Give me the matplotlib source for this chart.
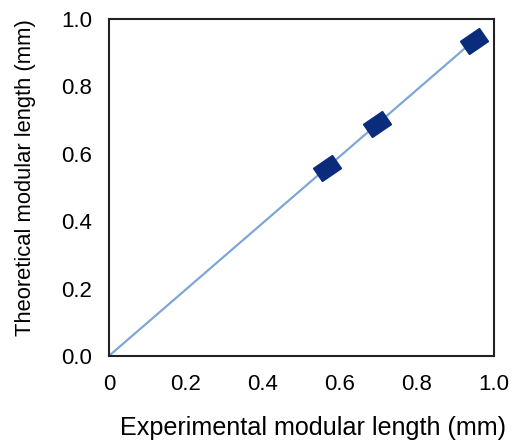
import matplotlib

matplotlib.use("Agg")
import matplotlib.pyplot as plt
import numpy as np
from matplotlib.markers import MarkerStyle
from matplotlib.transforms import Affine2D

plt.rcParams["font.family"] = ["Liberation Sans", "DejaVu Sans"]

# experimental vs theoretical modular length (mm)
experimental = [0.565, 0.695, 0.948]
theoretical = [0.558, 0.687, 0.936]
x_ticks = [0, 0.2, 0.4, 0.6, 0.8, 1.0]
x_tick_labels = ["0", "0.2", "0.4", "0.6", "0.8", "1.0"]
y_ticks = [0.0, 0.2, 0.4, 0.6, 0.8, 1.0]
y_tick_labels = ["0.0", "0.2", "0.4", "0.6", "0.8", "1.0"]

xs = np.array(experimental)
ys = np.array(theoretical)
slope = (xs * ys).sum() / (xs * xs).sum()
fit_x = np.array([0, xs.max() + 0.01])

fig = plt.figure(figsize=(5.13, 4.41), dpi=100)
ax = fig.add_axes([0.2125, 0.193, 0.7505, 0.764])

ax.plot(fit_x, slope * fit_x, color="#7fa6d6", lw=1.6, zorder=2)

marker = MarkerStyle("s", transform=Affine2D().scale(1.3, 0.9).rotate_deg(35))
ax.plot(xs, ys, linestyle="none", marker=marker, markersize=13,
        color="#0b2c7c", markeredgecolor="#0b2c7c", zorder=3)

ax.set_xlim(0, 1.0)
ax.set_ylim(0, 1.0)
ax.set_xticks(x_ticks)
ax.set_xticklabels(x_tick_labels)
ax.set_yticks(y_ticks)
ax.set_yticklabels(y_tick_labels)
ax.tick_params(length=0, labelsize=16)
ax.tick_params(axis="x", pad=13)
ax.tick_params(axis="y", pad=12)
for s in ax.spines.values():
    s.set_linewidth(1.5)
    s.set_color("#222222")

ax.set_xlabel("Experimental modular length (mm)", fontsize=18.1, labelpad=15, x=0.531)
ax.set_ylabel("Theoretical modular length (mm)", fontsize=15.8)
ax.yaxis.set_label_coords(-0.19, 0.53)

fig.savefig("out.png", dpi=100)
